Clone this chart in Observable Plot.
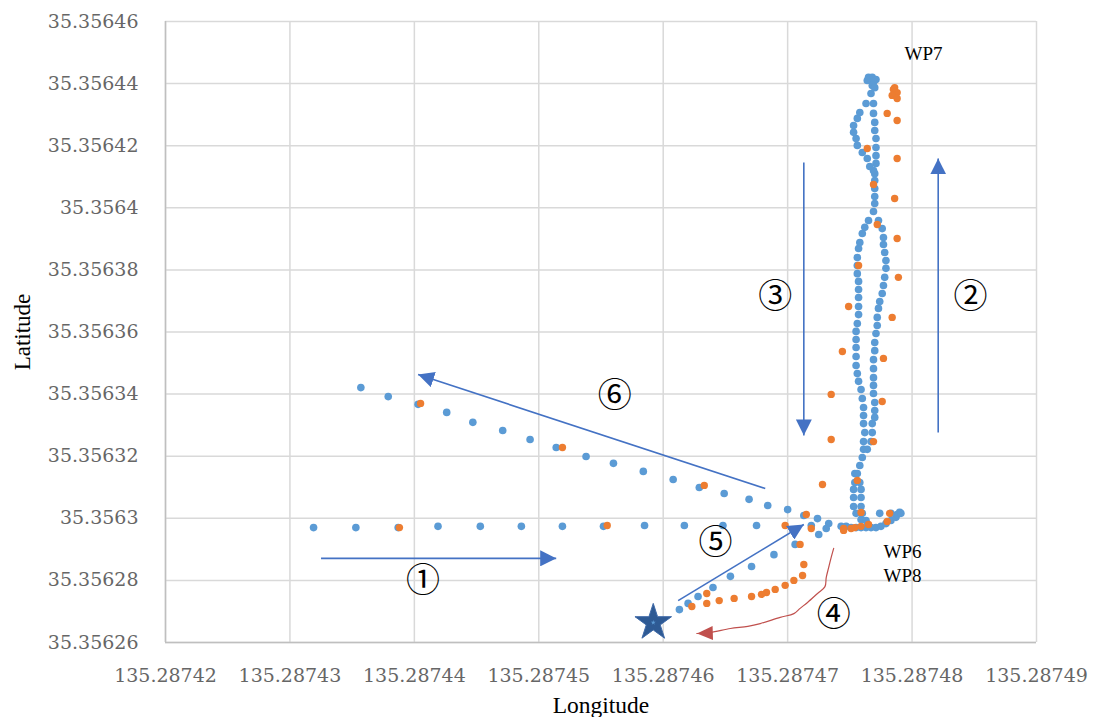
<!DOCTYPE html>
<html>
<head>
<meta charset="utf-8">
<script src="https://cdn.jsdelivr.net/npm/d3@7"></script>
<script src="https://cdn.jsdelivr.net/npm/@observablehq/plot@0.6"></script>
<style>
  html, body { margin: 0; padding: 0; background: #fff; }
  #chart svg { display: block; }
</style>
</head>
<body>
<div id="chart"></div>
<script>
// ---------------- DATA ----------------
const xTicks = [135.28742, 135.28743, 135.28744, 135.28745, 135.28746, 135.28747, 135.28748, 135.28749];
const yTicks = [35.35626, 35.35628, 35.3563, 35.35632, 35.35634, 35.35636, 35.35638, 35.3564, 35.35642, 35.35644, 35.35646];
const xTitle = "Longitude";
const yTitle = "Latitude";

// Blue series (lon, lat)
const blueLeg1 = [
  [135.2874319,35.3562970],[135.2874353,35.3562970],[135.2874387,35.3562970],[135.2874419,35.3562974],
  [135.2874453,35.3562974],[135.2874486,35.3562974],[135.2874519,35.3562974],[135.2874552,35.3562974],
  [135.2874585,35.3562977],[135.2874617,35.3562977],[135.2874648,35.3562977],[135.2874675,35.3562977]
];
const blueWP6 = [
  [135.2874743,35.3562974],[135.2874747,35.3562974],[135.2874751,35.3562970],[135.2874755,35.3562970],
  [135.2874759,35.3562970],[135.2874763,35.3562970],[135.2874767,35.3562970],[135.2874771,35.3562970],
  [135.2874775,35.3562974],[135.2874779,35.3562983],[135.2874783,35.3562993],[135.2874787,35.3563003],
  [135.2874790,35.3563019],[135.2874788,35.3563012],[135.2874791,35.3563016],[135.2874774,35.3563016],
  [135.2874783,35.3563016],
  [135.2874759,35.3562996],[135.2874763,35.3562993],[135.2874755,35.3563016],[135.2874760,35.3563016],
  [135.2874753,35.3563038],[135.2874759,35.3563038],[135.2874753,35.3563067],[135.2874759,35.3563067],
  [135.2874753,35.3563093],[135.2874759,35.3563093],[135.2874754,35.3563115],[135.2874758,35.3563115],
  [135.2874754,35.3563144],[135.2874756,35.3563144],[135.2874758,35.3563170],[135.2874760,35.3563196],
  [135.2874761,35.3563222],[135.2874764,35.3563222],[135.2874761,35.3563247],[135.2874767,35.3563247],
  [135.2874762,35.3563276],[135.2874768,35.3563276],[135.2874761,35.3563305],[135.2874768,35.3563305]
];
const blueLeg3 = [
  [135.2874761,35.3563331],[135.2874761,35.3563357],[135.2874760,35.3563386],[135.2874759,35.3563415],
  [135.2874757,35.3563441],[135.2874756,35.3563466],[135.2874755,35.3563492],[135.2874755,35.3563521],
  [135.2874755,35.3563550],[135.2874755,35.3563576],[135.2874755,35.3563602],[135.2874756,35.3563627],
  [135.2874757,35.3563656],[135.2874757,35.3563682],[135.2874757,35.3563711],[135.2874757,35.3563737],
  [135.2874757,35.3563763],[135.2874756,35.3563788],[135.2874756,35.3563814],[135.2874756,35.3563840],
  [135.2874757,35.3563869],[135.2874758,35.3563888],[135.2874760,35.3563917],[135.2874762,35.3563937],
  [135.2874765,35.3563959]
];
const blueLeg2 = [
  [135.2874770,35.3563325],[135.2874770,35.3563347],[135.2874770,35.3563373],[135.2874769,35.3563402],
  [135.2874769,35.3563428],[135.2874769,35.3563453],[135.2874769,35.3563482],[135.2874769,35.3563511],
  [135.2874770,35.3563540],[135.2874770,35.3563566],[135.2874771,35.3563595],[135.2874772,35.3563621],
  [135.2874772,35.3563647],[135.2874773,35.3563676],[135.2874774,35.3563698],[135.2874776,35.3563724],
  [135.2874777,35.3563750],[135.2874778,35.3563776],[135.2874779,35.3563805],[135.2874779,35.3563830],
  [135.2874778,35.3563856],[135.2874777,35.3563882],[135.2874777,35.3563904],[135.2874776,35.3563933],
  [135.2874773,35.3563959]
];
const blueWP7 = [
  [135.2874769,35.3563988],[135.2874770,35.3564014],[135.2874770,35.3564036],[135.2874770,35.3564062],
  [135.2874770,35.3564088],[135.2874770,35.3564110],[135.2874771,35.3564143],[135.2874771,35.3564168],
  [135.2874771,35.3564194],[135.2874771,35.3564223],[135.2874770,35.3564249],[135.2874770,35.3564275],
  [135.2874769,35.3564304],[135.2874769,35.3564336],
  [135.2874769,35.3564120],[135.2874766,35.3564133],[135.2874764,35.3564159],[135.2874760,35.3564178],
  [135.2874756,35.3564201],[135.2874755,35.3564223],[135.2874753,35.3564243],[135.2874753,35.3564265],
  [135.2874756,35.3564288],[135.2874758,35.3564307],[135.2874763,35.3564336],[135.2874767,35.3564368],
  [135.2874765,35.3564420],[135.2874768,35.3564420],[135.2874771,35.3564413],[135.2874767,35.3564410],
  [135.2874769,35.3564404],[135.2874764,35.3564410],[135.2874768,35.3564394],[135.2874770,35.3564387]
];
const blueLeg6 = [
  [135.2874357,35.3563421],[135.2874379,35.3563392],[135.2874403,35.3563367],[135.2874426,35.3563341],
  [135.2874447,35.3563309],[135.2874471,35.3563283],[135.2874493,35.3563254],[135.2874514,35.3563228],
  [135.2874538,35.3563199],[135.2874560,35.3563177],[135.2874584,35.3563151],[135.2874608,35.3563125],
  [135.2874629,35.3563099],[135.2874649,35.3563080],[135.2874669,35.3563061],[135.2874684,35.3563041],
  [135.2874700,35.3563028],[135.2874713,35.3563009],[135.2874724,35.3562999],[135.2874733,35.3562983],
  [135.2874719,35.3562977],[135.2874731,35.3562967],[135.2874725,35.3562948]
];
const blueLeg5 = [
  [135.2874706,35.3562916],[135.2874689,35.3562883],[135.2874671,35.3562845],[135.2874654,35.3562813],
  [135.2874640,35.3562777],[135.2874628,35.3562748],[135.2874620,35.3562726],[135.2874613,35.3562706]
];

// Orange series (lon, lat)
const orangeUpper = [
  [135.2874785,35.3564381],[135.2874788,35.3564371],[135.2874784,35.3564362],[135.2874788,35.3564352],
  [135.2874786,35.3564387],[135.2874780,35.3564304],[135.2874788,35.3564281],[135.2874764,35.3564191],
  [135.2874788,35.3564159],[135.2874769,35.3564075],[135.2874786,35.3564030],[135.2874772,35.3563946],
  [135.2874788,35.3563901],[135.2874757,35.3563814],[135.2874789,35.3563776],[135.2874749,35.3563682],
  [135.2874784,35.3563647],[135.2874744,35.3563537],[135.2874777,35.3563515],[135.2874735,35.3563399],
  [135.2874776,35.3563376],[135.2874735,35.3563254],[135.2874769,35.3563247],[135.2874728,35.3563109],
  [135.2874756,35.3563122]
];
const orangeWP6 = [
  [135.2874759,35.3563019],[135.2874782,35.3563016],[135.2874780,35.3562990],[135.2874765,35.3562980],
  [135.2874759,35.3562974],[135.2874754,35.3562970],[135.2874751,35.3562967],[135.2874745,35.3562967],
  [135.2874745,35.3562961],[135.2874715,35.3563012],[135.2874698,35.3562977],[135.2874719,35.3562967],
  [135.2874710,35.3562916]
];
const orangeWest = [
  [135.2874405,35.3563370],[135.2874519,35.3563228],[135.2874633,35.3563106],
  [135.2874388,35.3562970],[135.2874555,35.3562977]
];
const orangeLeg4 = [
  [135.2874713,35.3562851],[135.2874712,35.3562816],[135.2874705,35.3562800],[135.2874698,35.3562784],
  [135.2874690,35.3562771],[135.2874683,35.3562761],[135.2874679,35.3562755],[135.2874671,35.3562748],
  [135.2874657,35.3562742],[135.2874645,35.3562735],[135.2874635,35.3562726],[135.2874635,35.3562758],
  [135.2874623,35.3562716]
];

const startPoint = [[135.2874592, 35.3562664]];

// Annotation arrows (lon1, lat1, lon2, lat2)
const blueArrows = [
  [135.2874325,35.3562871,135.2874514,35.3562871],   // ①
  [135.2874821,35.3563276,135.2874821,35.3564159],   // ②
  [135.2874713,35.3564146,135.2874713,35.3563267],   // ③
  [135.2874612,35.3562735,135.2874713,35.3562980],   // ⑤
  [135.2874682,35.3563096,135.2874403,35.3563463]    // ⑥
];
const redCurve = [
  [135.2874737,35.3562903],[135.2874735,35.3562874],[135.2874733,35.3562842],[135.2874731,35.3562809],
  [135.2874730,35.3562780],[135.2874724,35.3562758],[135.2874716,35.3562729],[135.2874710,35.3562710],
  [135.2874705,35.3562693],[135.2874694,35.3562681],[135.2874678,35.3562661],[135.2874668,35.3562652],
  [135.2874654,35.3562645],[135.2874638,35.3562632],[135.2874627,35.3562629]
];

const stepLabels = ["①", "②", "③", "④", "⑤", "⑥"];
const stepLon = [135.2874407, 135.2874847, 135.2874690, 135.2874737, 135.2874642, 135.2874561];
const stepLat = [35.3562797, 35.3563711, 35.3563711, 35.3562687, 35.3562919, 35.3563392];

const wpLabels = ["WP7", "WP6", "WP8"];
const wpLon = [135.2874794, 135.2874777, 135.2874777];
const wpLat = [35.3564497, 35.3562893, 35.3562813];

// ---------------- BUILD ----------------
const blueAll = [...blueLeg1, ...blueWP6, ...blueLeg3, ...blueLeg2, ...blueWP7, ...blueLeg6, ...blueLeg5];
const orangeAll = [...orangeUpper, ...orangeWP6, ...orangeWest, ...orangeLeg4];
const steps = stepLabels.map((t, i) => ({t, x: stepLon[i], y: stepLat[i]}));
const wps = wpLabels.map((t, i) => ({t, x: wpLon[i], y: wpLat[i]}));

const ns = "http://www.w3.org/2000/svg";
function headMarker(len, half) {
  return (color) => {
    const m = document.createElementNS(ns, "marker");
    m.setAttribute("viewBox", `${-len} ${-half} ${len} ${2 * half}`);
    m.setAttribute("markerWidth", len);
    m.setAttribute("markerHeight", 2 * half);
    m.setAttribute("markerUnits", "userSpaceOnUse");
    m.setAttribute("orient", "auto");
    m.setAttribute("refX", 0);
    m.setAttribute("refY", 0);
    const p = document.createElementNS(ns, "path");
    p.setAttribute("d", `M${-len},${-half}L0,0L${-len},${half}Z`);
    p.setAttribute("fill", color);
    p.setAttribute("stroke", "none");
    m.appendChild(p);
    return m;
  };
}

const serif = "'Liberation Serif', 'Times New Roman', serif";

const chart = Plot.plot({
  width: 1096,
  height: 717,
  marginLeft: 165,
  marginRight: 60,
  marginTop: 21,
  marginBottom: 75,
  x: {domain: [xTicks[0], xTicks[xTicks.length - 1]]},
  y: {domain: [yTicks[0], yTicks[yTicks.length - 1]]},
  style: {fontFamily: "'DejaVu Serif', serif", fontSize: "19px", color: "#666666", background: "#fff"},
  marks: [
    Plot.gridX(xTicks, {stroke: "#d9d9d9", strokeOpacity: 1, strokeWidth: 1.5}),
    Plot.gridY(yTicks, {stroke: "#d9d9d9", strokeOpacity: 1, strokeWidth: 1.5}),
    Plot.ruleX([xTicks[0]], {stroke: "#bfbfbf", strokeWidth: 1.5}),
    Plot.ruleY([yTicks[0]], {stroke: "#bfbfbf", strokeWidth: 1.5}),
    Plot.axisX(xTicks, {tickSize: 0, tickPadding: 26, tickFormat: (d) => String(d), label: null}),
    Plot.axisY(yTicks, {tickSize: 0, tickPadding: 27, tickFormat: (d) => String(d), label: null}),
    Plot.text([xTitle], {frameAnchor: "bottom", dy: 63, lineAnchor: "middle", textAnchor: "middle",
      fontSize: 23.5, fill: "#000", fontFamily: serif}),
    Plot.text([yTitle], {frameAnchor: "left", dx: -143, rotate: -90, lineAnchor: "middle", textAnchor: "middle",
      fontSize: 23, fill: "#000", fontFamily: serif}),
    Plot.dot(blueAll, {x: (d) => d[0], y: (d) => d[1], r: 3.8, fill: "#5B9BD5"}),
    Plot.dot(orangeAll, {x: (d) => d[0], y: (d) => d[1], r: 3.7, fill: "#ED7D31"}),
    Plot.link(blueArrows, {x1: (d) => d[0], y1: (d) => d[1], x2: (d) => d[2], y2: (d) => d[3],
      stroke: "#4472C4", strokeWidth: 1.6, markerEnd: headMarker(16, 8)}),
    Plot.line(redCurve, {x: (d) => d[0], y: (d) => d[1], stroke: "#C0504D", strokeWidth: 1.2,
      curve: "catmull-rom", markerEnd: headMarker(16, 7)}),
    Plot.dot(startPoint, {x: (d) => d[0], y: (d) => d[1], symbol: "star", r: 11.5, fill: "#2E5A94", stroke: "#3F6AA8", strokeWidth: 1}),
    Plot.dot(startPoint, {x: (d) => d[0], y: (d) => d[1], symbol: "star", r: 1.5, fill: "#5B9BD5"}),
    Plot.text(steps, {x: "x", y: "y", text: "t", fontSize: 34, fill: "#000",
      fontFamily: "'Noto Sans CJK JP', 'DejaVu Sans', sans-serif"}),
    Plot.text(wps, {x: "x", y: "y", text: "t", fontSize: 19, fill: "#000", textAnchor: "start",
      fontFamily: serif})
  ]
});
document.getElementById("chart").appendChild(chart);
</script>
</body>
</html>
